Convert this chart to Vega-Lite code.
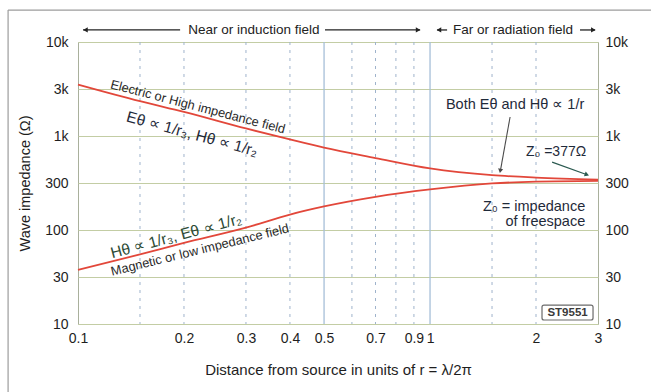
{
  "$schema": "https://vega.github.io/schema/vega-lite/v6.json",
  "width": 520,
  "height": 282,
  "autosize": {"type": "none"},
  "padding": {"left": 78, "top": 42, "right": 53, "bottom": 68},
  "background": "white",
  "config": {
    "view": {"stroke": "#a9b09c", "strokeWidth": 1},
    "font": "Liberation Sans",
    "text": {"font": "Liberation Sans"}
  },
  "datasets": {
    "curveE": [
      {"r": 0.1, "z": 3525}, {"r": 0.15, "z": 2345}, {"r": 0.2, "z": 1803}, {"r": 0.3, "z": 1202},
      {"r": 0.4, "z": 918}, {"r": 0.5, "z": 751}, {"r": 0.7, "z": 583}, {"r": 1, "z": 452},
      {"r": 1.5, "z": 383}, {"r": 2, "z": 361}, {"r": 3, "z": 344}
    ],
    "curveM": [
      {"r": 0.1, "z": 37.7}, {"r": 0.15, "z": 55}, {"r": 0.2, "z": 73}, {"r": 0.3, "z": 106},
      {"r": 0.4, "z": 146}, {"r": 0.5, "z": 178}, {"r": 0.7, "z": 225}, {"r": 1, "z": 270},
      {"r": 1.5, "z": 313}, {"r": 2, "z": 327}, {"r": 3, "z": 333}
    ]
  },
  "resolve": {"axis": {"y": "independent"}},
  "layer": [
    {
      "data": {"values": [{"v": 0.5}, {"v": 1}]},
      "mark": {"type": "rule", "color": "#a6bfd8", "strokeWidth": 1.3},
      "encoding": {
        "x": {"field": "v", "type": "quantitative", "scale": {"type": "log", "domain": [0.1, 3], "nice": false},
          "axis": {"values": [0.1, 0.2, 0.3, 0.4, 0.5, 0.7, 0.9, 1, 2, 3], "format": "~g", "grid": false, "domain": false, "ticks": false,
            "labelOverlap": false, "labelFlush": false, "labelFontSize": 14, "labelColor": "#1e1e1e", "labelPadding": 7,
            "title": "Distance from source in units of  r = λ/2π", "titleFontSize": 15, "titleFontWeight": "normal", "titleColor": "#1e1e1e", "titlePadding": 17}}
      }
    },
    {
      "data": {"values": [{"v": 0.15}, {"v": 0.2}, {"v": 0.3}, {"v": 0.4}, {"v": 0.6}, {"v": 0.7}, {"v": 0.8}, {"v": 0.9}, {"v": 1.5}, {"v": 2}]},
      "mark": {"type": "rule", "color": "#9fb3cc", "strokeWidth": 1, "strokeDash": [3, 5]},
      "encoding": {
        "x": {"field": "v", "type": "quantitative", "scale": {"type": "log", "domain": [0.1, 3], "nice": false}}
      }
    },
    {
      "data": {"name": "curveE"},
      "mark": {"type": "line", "color": "#e2473a", "strokeWidth": 1.8, "interpolate": "monotone"},
      "encoding": {
        "x": {"field": "r", "type": "quantitative", "scale": {"type": "log", "domain": [0.1, 3], "nice": false}},
        "y": {"field": "z", "type": "quantitative", "scale": {"type": "log", "domain": [10, 10000], "nice": false},
          "axis": {"orient": "left", "values": [10, 31.62, 100, 316.2, 1000, 3162, 10000],
            "labelExpr": "datum.value < 20 ? '10' : datum.value < 50 ? '30' : datum.value < 200 ? '100' : datum.value < 500 ? '300' : datum.value < 2000 ? '1k' : datum.value < 5000 ? '3k' : '10k'",
            "grid": true, "gridColor": "#c3cda4", "gridWidth": 1.2, "domain": false, "ticks": false,
            "labelFontSize": 14, "labelColor": "#1e1e1e", "labelPadding": 10, "labelOverlap": false, "labelFlush": false,
            "title": "Wave impedance (Ω)", "titleFontSize": 14.5, "titleFontWeight": "normal", "titleColor": "#1e1e1e", "titlePadding": 12}}
      }
    },
    {
      "data": {"name": "curveM"},
      "mark": {"type": "line", "color": "#e2473a", "strokeWidth": 1.8, "interpolate": "monotone"},
      "encoding": {
        "x": {"field": "r", "type": "quantitative", "scale": {"type": "log", "domain": [0.1, 3], "nice": false}},
        "y": {"field": "z", "type": "quantitative", "scale": {"type": "log", "domain": [10, 10000], "nice": false},
          "axis": {"orient": "right", "values": [10, 31.62, 100, 316.2, 1000, 3162, 10000],
            "labelExpr": "datum.value < 20 ? '10' : datum.value < 50 ? '30' : datum.value < 200 ? '100' : datum.value < 500 ? '300' : datum.value < 2000 ? '1k' : datum.value < 5000 ? '3k' : '10k'",
            "grid": false, "domain": false, "ticks": false,
            "labelFontSize": 14, "labelColor": "#1e1e1e", "labelPadding": 7, "labelOverlap": false, "labelFlush": false,
            "title": null}}
      }
    },
    {
      "data": {"values": [{"x": 0.0633, "y": 21870, "y2": 1.5}]},
      "mark": {"type": "rule", "color": "#9c9c9c", "strokeWidth": 1.2},
      "encoding": {
        "x": {"field": "x", "type": "quantitative", "scale": {"type": "log", "domain": [0.1, 3], "nice": false}},
        "y": {"field": "y", "type": "quantitative", "scale": {"type": "log", "domain": [10, 10000], "nice": false}, "axis": null},
        "y2": {"field": "y2"}
      }
    },
    {
      "data": {"values": [{"x": 0.0633, "x2": 4.5, "y": 21870}]},
      "mark": {"type": "rule", "color": "#9c9c9c", "strokeWidth": 1.2},
      "encoding": {
        "x": {"field": "x", "type": "quantitative", "scale": {"type": "log", "domain": [0.1, 3], "nice": false}},
        "x2": {"field": "x2"},
        "y": {"field": "y", "type": "quantitative", "scale": {"type": "log", "domain": [10, 10000], "nice": false}, "axis": null}
      }
    },
    {
      "data": {"values": [
        {"x": 0.1033, "x2": 0.195, "y": 13430},
        {"x": 0.503, "x2": 0.937, "y": 13430},
        {"x": 1.047, "x2": 1.118, "y": 13430},
        {"x": 2.667, "x2": 2.943, "y": 13430}
      ]},
      "mark": {"type": "rule", "color": "#222222", "strokeWidth": 1.3},
      "encoding": {
        "x": {"field": "x", "type": "quantitative", "scale": {"type": "log", "domain": [0.1, 3], "nice": false}},
        "x2": {"field": "x2"},
        "y": {"field": "y", "type": "quantitative", "scale": {"type": "log", "domain": [10, 10000], "nice": false}, "axis": null}
      }
    },
    {
      "data": {"values": [{"x": 0.105, "y": 13430}, {"x": 1.06, "y": 13430}]},
      "mark": {"type": "point", "shape": "triangle-left", "filled": true, "size": 28, "color": "#222222", "opacity": 1},
      "encoding": {
        "x": {"field": "x", "type": "quantitative", "scale": {"type": "log", "domain": [0.1, 3], "nice": false}},
        "y": {"field": "y", "type": "quantitative", "scale": {"type": "log", "domain": [10, 10000], "nice": false}, "axis": null}
      }
    },
    {
      "data": {"values": [{"x": 0.925, "y": 13430}, {"x": 2.91, "y": 13430}]},
      "mark": {"type": "point", "shape": "triangle-right", "filled": true, "size": 28, "color": "#222222", "opacity": 1},
      "encoding": {
        "x": {"field": "x", "type": "quantitative", "scale": {"type": "log", "domain": [0.1, 3], "nice": false}},
        "y": {"field": "y", "type": "quantitative", "scale": {"type": "log", "domain": [10, 10000], "nice": false}, "axis": null}
      }
    },
    {
      "data": {"values": [{"x": 0.316, "y": 13430, "t": "Near or induction field"}, {"x": 1.721, "y": 13430, "t": "Far or radiation field"}]},
      "mark": {"type": "text", "fontSize": 13.5, "color": "#222222", "baseline": "middle", "align": "center"},
      "encoding": {
        "x": {"field": "x", "type": "quantitative", "scale": {"type": "log", "domain": [0.1, 3], "nice": false}},
        "y": {"field": "y", "type": "quantitative", "scale": {"type": "log", "domain": [10, 10000], "nice": false}, "axis": null},
        "text": {"field": "t"}
      }
    },
    {
      "data": {"values": [{"x": 0.219, "y": 2037, "t": "Electric or High impedance field"}]},
      "mark": {"type": "text", "fontSize": 12.8, "color": "#2a2a2a", "angle": 14.6, "baseline": "middle", "align": "center"},
      "encoding": {
        "x": {"field": "x", "type": "quantitative", "scale": {"type": "log", "domain": [0.1, 3], "nice": false}},
        "y": {"field": "y", "type": "quantitative", "scale": {"type": "log", "domain": [10, 10000], "nice": false}, "axis": null},
        "text": {"field": "t"}
      }
    },
    {
      "data": {"values": [{"x": 0.211, "y": 1050, "t": "Eθ  ∝  1/r₃,   Hθ  ∝  1/r₂"}]},
      "mark": {"type": "text", "fontSize": 15.5, "color": "#1f2a3a", "angle": 15, "baseline": "middle", "align": "center"},
      "encoding": {
        "x": {"field": "x", "type": "quantitative", "scale": {"type": "log", "domain": [0.1, 3], "nice": false}},
        "y": {"field": "y", "type": "quantitative", "scale": {"type": "log", "domain": [10, 10000], "nice": false}, "axis": null},
        "text": {"field": "t"}
      }
    },
    {
      "data": {"values": [{"x": 0.19, "y": 86.3, "t": "Hθ  ∝  1/r₃,   Eθ  ∝  1/r₂"}]},
      "mark": {"type": "text", "fontSize": 15.5, "color": "#2c4a34", "angle": -15, "baseline": "middle", "align": "center"},
      "encoding": {
        "x": {"field": "x", "type": "quantitative", "scale": {"type": "log", "domain": [0.1, 3], "nice": false}},
        "y": {"field": "y", "type": "quantitative", "scale": {"type": "log", "domain": [10, 10000], "nice": false}, "axis": null},
        "text": {"field": "t"}
      }
    },
    {
      "data": {"values": [{"x": 0.222, "y": 61.2, "t": "Magnetic or low impedance field"}]},
      "mark": {"type": "text", "fontSize": 12.8, "color": "#2a2a2a", "angle": -13.8, "baseline": "middle", "align": "center"},
      "encoding": {
        "x": {"field": "x", "type": "quantitative", "scale": {"type": "log", "domain": [0.1, 3], "nice": false}},
        "y": {"field": "y", "type": "quantitative", "scale": {"type": "log", "domain": [10, 10000], "nice": false}, "axis": null},
        "text": {"field": "t"}
      }
    },
    {
      "data": {"values": [{"x": 1.744, "y": 2138, "t": "Both  Eθ  and  Hθ  ∝  1/r"}]},
      "mark": {"type": "text", "fontSize": 14.5, "color": "#1f2a3a", "baseline": "middle", "align": "center"},
      "encoding": {
        "x": {"field": "x", "type": "quantitative", "scale": {"type": "log", "domain": [0.1, 3], "nice": false}},
        "y": {"field": "y", "type": "quantitative", "scale": {"type": "log", "domain": [10, 10000], "nice": false}, "axis": null},
        "text": {"field": "t"}
      }
    },
    {
      "data": {"values": [{"x": 1.688, "x2": 1.585, "y": 1592, "y2": 430}]},
      "mark": {"type": "rule", "color": "#4a4a4a", "strokeWidth": 1.1},
      "encoding": {
        "x": {"field": "x", "type": "quantitative", "scale": {"type": "log", "domain": [0.1, 3], "nice": false}},
        "x2": {"field": "x2"},
        "y": {"field": "y", "type": "quantitative", "scale": {"type": "log", "domain": [10, 10000], "nice": false}, "axis": null},
        "y2": {"field": "y2"}
      }
    },
    {
      "data": {"values": [{"x": 1.583, "y": 425}]},
      "mark": {"type": "point", "shape": "triangle-down", "filled": true, "size": 26, "color": "#4a4a4a", "opacity": 1, "angle": 10},
      "encoding": {
        "x": {"field": "x", "type": "quantitative", "scale": {"type": "log", "domain": [0.1, 3], "nice": false}},
        "y": {"field": "y", "type": "quantitative", "scale": {"type": "log", "domain": [10, 10000], "nice": false}, "axis": null}
      }
    },
    {
      "data": {"values": [{"x": 2.28, "y": 676, "t": "Z₀ =377Ω"}]},
      "mark": {"type": "text", "fontSize": 14, "color": "#1f2a3a", "baseline": "middle", "align": "center"},
      "encoding": {
        "x": {"field": "x", "type": "quantitative", "scale": {"type": "log", "domain": [0.1, 3], "nice": false}},
        "y": {"field": "y", "type": "quantitative", "scale": {"type": "log", "domain": [10, 10000], "nice": false}, "axis": null},
        "text": {"field": "t"}
      }
    },
    {
      "data": {"values": [{"x": 2.222, "x2": 2.78, "y": 528, "y2": 390}]},
      "mark": {"type": "rule", "color": "#2b5a50", "strokeWidth": 1.2},
      "encoding": {
        "x": {"field": "x", "type": "quantitative", "scale": {"type": "log", "domain": [0.1, 3], "nice": false}},
        "x2": {"field": "x2"},
        "y": {"field": "y", "type": "quantitative", "scale": {"type": "log", "domain": [10, 10000], "nice": false}, "axis": null},
        "y2": {"field": "y2"}
      }
    },
    {
      "data": {"values": [{"x": 2.79, "y": 388}]},
      "mark": {"type": "point", "shape": "triangle-right", "filled": true, "size": 26, "color": "#2b5a50", "opacity": 1, "angle": 20},
      "encoding": {
        "x": {"field": "x", "type": "quantitative", "scale": {"type": "log", "domain": [0.1, 3], "nice": false}},
        "y": {"field": "y", "type": "quantitative", "scale": {"type": "log", "domain": [10, 10000], "nice": false}, "axis": null}
      }
    },
    {
      "data": {"values": [{"x": 2.76, "y": 175.8, "t": "Z₀ = impedance"}, {"x": 2.76, "y": 121.6, "t": "of freespace"}]},
      "mark": {"type": "text", "fontSize": 14.5, "color": "#1f2a3a", "baseline": "middle", "align": "right"},
      "encoding": {
        "x": {"field": "x", "type": "quantitative", "scale": {"type": "log", "domain": [0.1, 3], "nice": false}},
        "y": {"field": "y", "type": "quantitative", "scale": {"type": "log", "domain": [10, 10000], "nice": false}, "axis": null},
        "text": {"field": "t"}
      }
    },
    {
      "data": {"values": [{"x": 2.08, "x2": 2.904, "y": 15.9, "y2": 11.03}]},
      "mark": {"type": "rect", "fill": "white", "stroke": "#6a6a6a", "strokeWidth": 1.2, "cornerRadius": 2},
      "encoding": {
        "x": {"field": "x", "type": "quantitative", "scale": {"type": "log", "domain": [0.1, 3], "nice": false}},
        "x2": {"field": "x2"},
        "y": {"field": "y", "type": "quantitative", "scale": {"type": "log", "domain": [10, 10000], "nice": false}, "axis": null},
        "y2": {"field": "y2"}
      }
    },
    {
      "data": {"values": [{"x": 2.458, "y": 13.25, "t": "ST9551"}]},
      "mark": {"type": "text", "fontSize": 11.5, "fontWeight": "bold", "color": "#3a3a3a", "baseline": "middle", "align": "center"},
      "encoding": {
        "x": {"field": "x", "type": "quantitative", "scale": {"type": "log", "domain": [0.1, 3], "nice": false}},
        "y": {"field": "y", "type": "quantitative", "scale": {"type": "log", "domain": [10, 10000], "nice": false}, "axis": null},
        "text": {"field": "t"}
      }
    }
  ]
}
